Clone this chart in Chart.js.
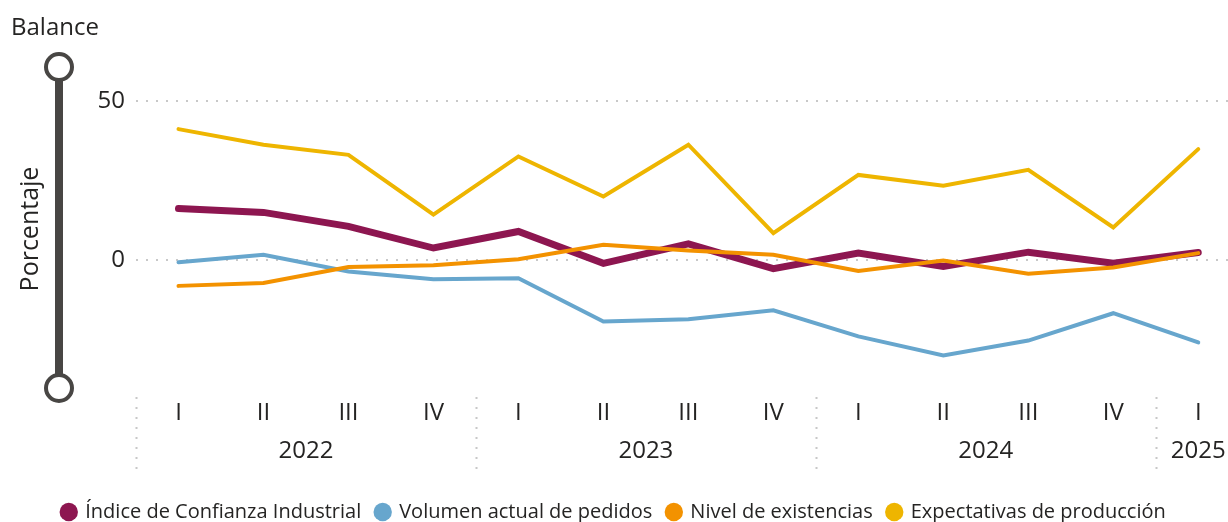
<!DOCTYPE html>
<html>
<head>
<meta charset="utf-8">
<script src="https://cdn.jsdelivr.net/npm/chart.js@4"></script>
<style>
  html, body { margin: 0; padding: 0; background: #fff; }
  #wrap { width: 1228px; height: 522px; }
</style>
</head>
<body>
<div id="wrap"><canvas id="balanceChart"></canvas></div>
<script>
// quarters and years
const quarterLabels = ['I', 'II', 'III', 'IV', 'I', 'II', 'III', 'IV', 'I', 'II', 'III', 'IV', 'I'];
const years = ['2022', '2023', '2024', '2025'];
const yearStart = [0, 4, 8, 12];
const yearEnd = [3, 7, 11, 12];
const yTicks = [0, 50];

// series (balance, %)
const indiceConfianza = [16.1, 14.9, 10.5, 3.7, 8.9, -1.1, 5.0, -2.8, 2.1, -2.1, 2.4, -1.1, 2.3];
const volumenPedidos = [-0.8, 1.6, -3.7, -6.1, -5.8, -19.4, -18.7, -15.9, -24.1, -30.1, -25.4, -16.8, -26.0];
const nivelExistencias = [-8.2, -7.3, -2.3, -1.7, 0.2, 4.7, 2.9, 1.6, -3.5, -0.2, -4.4, -2.4, 2.1];
const expectativasProd = [41.1, 36.2, 33.0, 14.2, 32.5, 19.9, 36.2, 8.4, 26.7, 23.3, 28.3, 10.2, 34.8];

const FONT = "'Segoe UI', 'Open Sans', sans-serif";
const TEXT = '#252423';
const DOT = '#c8c8c8';

const toPoints = arr => arr.map((v, i) => ({ x: i, y: v }));

function dottedLine(ctx, x1, y1, x2, y2) {
  ctx.save();
  ctx.strokeStyle = DOT;
  ctx.lineWidth = 2;
  ctx.setLineDash([2, 8]);
  ctx.beginPath();
  ctx.moveTo(x1, y1);
  ctx.lineTo(x2, y2);
  ctx.stroke();
  ctx.restore();
}

// axis title, slider decoration, year groups
const decorations = {
  id: 'decorations',
  afterDraw(chart) {
    const ctx = chart.ctx;
    const area = chart.chartArea;
    const xs = chart.scales.x;

    ctx.save();
    ctx.fillStyle = TEXT;
    ctx.font = '24px ' + FONT;
    ctx.textBaseline = 'middle';
    ctx.textAlign = 'left';
    ctx.fillText('Balance', 11, 28);

    ctx.save();
    ctx.translate(31, 229);
    ctx.rotate(-Math.PI / 2);
    ctx.textAlign = 'center';
    ctx.font = '25px ' + FONT;
    ctx.fillText('Porcentaje', 0, 0);
    ctx.restore();

    // slider
    const sx = 59;
    ctx.strokeStyle = '#484644';
    ctx.lineWidth = 8;
    ctx.beginPath();
    ctx.moveTo(sx, area.top + 12);
    ctx.lineTo(sx, area.bottom - 12);
    ctx.stroke();
    ctx.lineWidth = 4;
    ctx.fillStyle = '#fff';
    [area.top - 2, area.bottom + 1].forEach(cy => {
      ctx.beginPath();
      ctx.arc(sx, cy, 13, 0, Math.PI * 2);
      ctx.fill();
      ctx.stroke();
    });

    // year separators and labels
    const sepTop = area.bottom + 10;
    const sepBottom = area.bottom + 84;
    [-0.5, 3.5, 7.5, 11.5].forEach(v => {
      const px = Math.round(xs.getPixelForValue(v)) + 0.5;
      dottedLine(ctx, px, sepTop, px, sepBottom);
    });
    ctx.fillStyle = TEXT;
    ctx.textAlign = 'center';
    ctx.font = '24px ' + FONT;
    years.forEach((y, i) => {
      const mid = (xs.getPixelForValue(yearStart[i]) + xs.getPixelForValue(yearEnd[i])) / 2;
      ctx.fillText(y, mid, area.bottom + 64);
    });
    ctx.restore();
  }
};

const ctx = document.getElementById('balanceChart').getContext('2d');
const balanceChart = new Chart(ctx, {
  type: 'line',
  data: {
    datasets: [
      { label: 'Índice de Confianza Industrial', data: toPoints(indiceConfianza), borderColor: '#8d1650', backgroundColor: '#8d1650', borderWidth: 7, order: 4 },
      { label: 'Volumen actual de pedidos', data: toPoints(volumenPedidos), borderColor: '#67a6cd', backgroundColor: '#67a6cd', borderWidth: 4, order: 3 },
      { label: 'Nivel de existencias', data: toPoints(nivelExistencias), borderColor: '#f39200', backgroundColor: '#f39200', borderWidth: 4, order: 2 },
      { label: 'Expectativas de producción', data: toPoints(expectativasProd), borderColor: '#eeb500', backgroundColor: '#eeb500', borderWidth: 4, order: 1 }
    ]
  },
  options: {
    responsive: true,
    maintainAspectRatio: false,
    animation: false,
    layout: { padding: { top: 69, left: 0, right: 0, bottom: -10 } },
    elements: {
      point: { radius: 0, hoverRadius: 0 },
      line: { tension: 0, borderCapStyle: 'round', borderJoinStyle: 'miter' }
    },
    plugins: {
      tooltip: { enabled: false },
      legend: {
        position: 'bottom',
        labels: {
          usePointStyle: true,
          pointStyle: 'circle',
          boxWidth: 13,
          boxHeight: 13,
          padding: 15,
          color: TEXT,
          font: { family: FONT, size: 20 },
          sort: (a, b) => a.datasetIndex - b.datasetIndex,
          generateLabels(chart) {
            const items = Chart.defaults.plugins.legend.labels.generateLabels(chart);
            return items.map(it => Object.assign(it, { lineWidth: 0, fillStyle: it.strokeStyle }));
          }
        }
      }
    },
    scales: {
      x: {
        type: 'linear',
        min: -0.5,
        max: 12.35,
        afterBuildTicks(axis) { axis.ticks = quarterLabels.map((q, i) => ({ value: i })); },
        afterFit(axis) { axis.height = 100; },
        grid: { display: false, drawTicks: false },
        border: { display: false },
        ticks: {
          autoSkip: false,
          maxRotation: 0,
          padding: 12,
          color: TEXT,
          font: { family: FONT, size: 24 },
          callback: (v) => quarterLabels[v]
        }
      },
      y: {
        min: -40,
        max: 60,
        afterBuildTicks(axis) { axis.ticks = yTicks.map(v => ({ value: v })); },
        afterFit(axis) { axis.width = 136; },
        grid: { color: DOT, lineWidth: 2, drawTicks: false },
        border: { display: false, dash: [2, 8] },
        ticks: {
          padding: 11,
          color: TEXT,
          font: { family: FONT, size: 24 }
        }
      }
    }
  },
  plugins: [decorations]
});
</script>
</body>
</html>
